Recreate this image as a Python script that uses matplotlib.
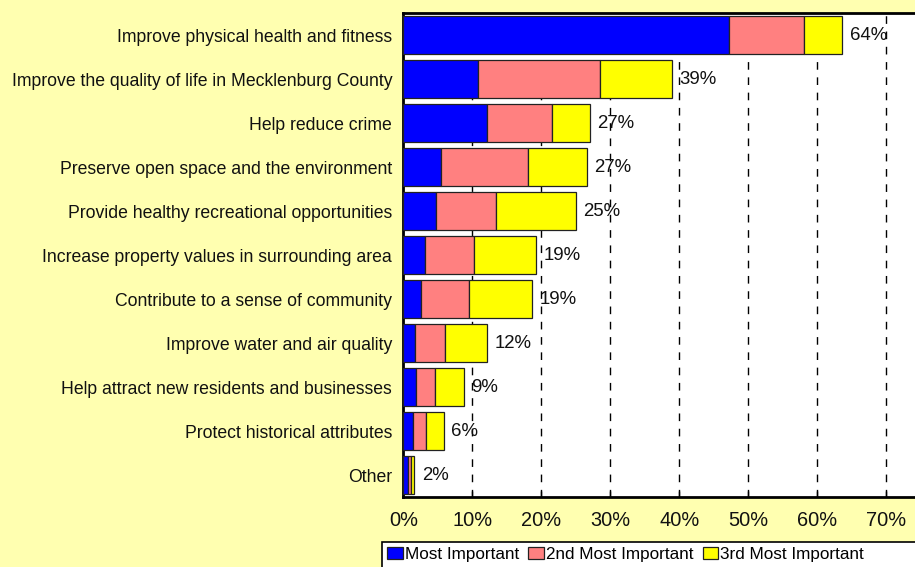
import matplotlib
matplotlib.use('Agg')
import matplotlib.pyplot as plt
from matplotlib.patches import Rectangle, Patch

categories = [
    "Improve physical health and fitness",
    "Improve the quality of life in Mecklenburg County",
    "Help reduce crime",
    "Preserve open space and the environment",
    "Provide healthy recreational opportunities",
    "Increase property values in surrounding area",
    "Contribute to a sense of community",
    "Improve water and air quality",
    "Help attract new residents and businesses",
    "Protect historical attributes",
    "Other",
]
most_important = [47.2, 10.8, 12.1, 5.4, 4.7, 3.1, 2.5, 1.65, 1.9, 1.35, 0.7]
second_most = [10.8, 17.7, 9.5, 12.6, 8.7, 7.1, 7.0, 4.45, 2.65, 1.9, 0.4]
third_most = [5.6, 10.4, 5.4, 8.6, 11.6, 9.1, 9.15, 6.0, 4.2, 2.6, 0.45]
total_labels = ["64%", "39%", "27%", "27%", "25%", "19%", "19%", "12%", "9%", "6%", "2%"]
series_names = ["Most Important", "2nd Most Important", "3rd Most Important"]
xticks = [0, 10, 20, 30, 40, 50, 60, 70]
xtick_labels = ["0%", "10%", "20%", "30%", "40%", "50%", "60%", "70%"]

colors = ["#0000FF", "#FF8080", "#FFFF00"]
bg = "#FFFFB0"
FONT = "Liberation Sans"

W, H = 915, 567
fig = plt.figure(figsize=(W / 100, H / 100), dpi=100, facecolor=bg)
ax = fig.add_axes([403.3 / W, 1 - 497 / H, 1 - 403.3 / W, (497 - 13) / H])
ax.set_facecolor("white")

y = list(range(len(categories)))
left = [0] * len(categories)
for vals, col, name in zip([most_important, second_most, third_most], colors, series_names):
    ax.barh(y, vals, left=left, height=0.85, color=col, edgecolor="#222222",
            linewidth=0.9, zorder=3, label=name)
    left = [l + v for l, v in zip(left, vals)]

for yi, tot, lab in zip(y, left, total_labels):
    ax.annotate(lab, xy=(tot, yi), xytext=(5.5, -0.5), textcoords="offset points",
                ha="left", va="center", fontsize=13.4, family=FONT, color="#111111", zorder=4)

ax.set_xlim(0, (W - 403.3) / 6.9)
ax.set_ylim(len(categories) - 0.5, -0.5)
ax.set_yticks(y)
ax.set_yticklabels(categories, family=FONT, fontsize=12.7, color="#111111")
ax.tick_params(axis="y", length=0, pad=8)
ax.set_xticks(xticks)
ax.set_xticklabels(xtick_labels, family=FONT, fontsize=14.4, color="#111111")
ax.tick_params(axis="x", direction="in", length=4, width=1, pad=10)

for xv in xticks[1:]:
    ax.axvline(xv, color="black", linewidth=1, dashes=(5.5, 5.5), zorder=1)

for s in ["left", "bottom", "top"]:
    ax.spines[s].set_linewidth(2)
    ax.spines[s].set_color("black")
ax.spines["right"].set_visible(False)

# legend frame
fig.patches.append(Rectangle((382 / W, -0.05), 1.0, (567 - 542) / H + 0.05,
                             transform=fig.transFigure, facecolor="white",
                             edgecolor="black", linewidth=1.2, zorder=0))
handles = [Patch(facecolor=c, edgecolor="#222222", linewidth=0.9) for c in colors]
leg = fig.legend(handles, series_names, loc="upper left",
                 bbox_to_anchor=(384 / W, 1 - 543.5 / H), ncol=3, frameon=False,
                 prop={"family": FONT, "size": 12.3}, handlelength=0.9,
                 handleheight=0.75, handletextpad=0.12, columnspacing=0.55,
                 borderpad=0.2, borderaxespad=0)

fig.savefig("out.png", dpi=100, facecolor=bg)
